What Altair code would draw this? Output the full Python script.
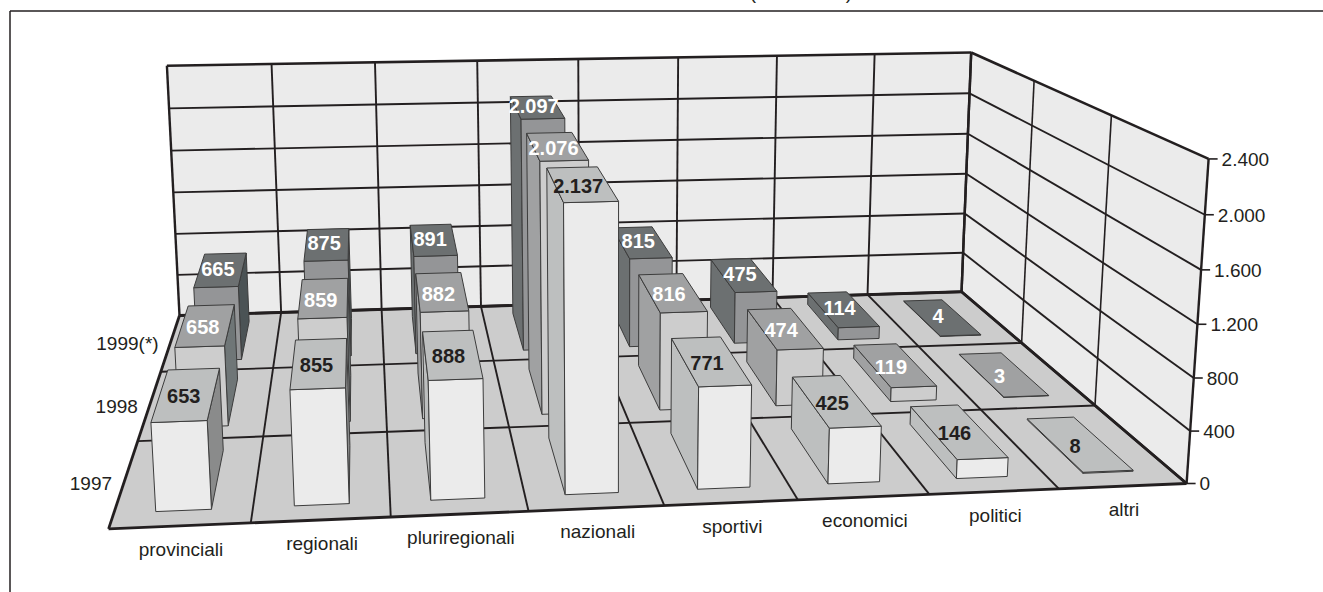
import altair as alt
import numpy as np

CATEGORIES = ["provinciali", "regionali", "pluriregionali", "nazionali",
              "sportivi", "economici", "politici", "altri"]
YEARS = ["1997", "1998", "1999(*)"]
V1997 = [653, 855, 888, 2137, 771, 425, 146, 8]
V1998 = [658, 859, 882, 2076, 816, 474, 119, 3]
V1999 = [665, 875, 891, 2097, 815, 475, 114, 4]
LABELS_1997 = ["653", "855", "888", "2.137", "771", "425", "146", "8"]
LABELS_1998 = ["658", "859", "882", "2.076", "816", "474", "119", "3"]
LABELS_1999 = ["665", "875", "891", "2.097", "815", "475", "114", "4"]
TICKS = [0, 400, 800, 1200, 1600, 2000, 2400]
TICK_LABELS = ["0", "400", "800", "1.200", "1.600", "2.000", "2.400"]

W, H = 1323, 592
FONT = "Liberation Sans"
INK = "#231f20"

# Each row: front, top, right side, left side
ROW_COLOURS = [
    ("#ebebeb", "#bdbfbf", "#8a8b8b", "#bdbfbf"),
    ("#cdcdcd", "#a0a1a2", "#6f7677", "#a0a1a2"),
    ("#949597", "#6c7071", "#4b5355", "#6c7071"),
]

# Camera: a 3x4 perspective matrix solved from known box reference points.
# World axes are (category, value, row).
CAMERA_POINTS = [
    ((0, 0, 0), (108, 529)), ((8, 0, 0), (1187, 483)), ((8, 0, 3), (962, 292)),
    ((0, 0, 3), (179, 315)), ((0, 2400, 3), (167, 66)), ((8, 2400, 3), (971, 52)),
    ((8, 2400, 0), (1208, 159)), ((0, 0, 1), (137, 442)), ((0, 0, 2), (162, 372)),
    ((8, 0, 1), (1095, 406)), ((8, 0, 2), (1021, 343)), ((4, 0, 0), (665, 505)),
    ((1, 0, 0), (251, 522)), ((7, 0, 0), (1058, 489)), ((8, 2000, 0), (1205, 215)),
    ((8, 1600, 0), (1202, 270)),
]


def solve_camera(points):
    rows, rhs = [], []
    for (a, b, c), (u, v) in points:
        b = b / 1000.0
        rows.append([a, b, c, 1, 0, 0, 0, 0, -u * a, -u * b, -u * c])
        rhs.append(u)
        rows.append([0, 0, 0, 0, a, b, c, 1, -v * a, -v * b, -v * c])
        rhs.append(v)
    sol = np.linalg.lstsq(np.array(rows, float), np.array(rhs, float), rcond=None)[0]
    return np.append(sol, 1.0).reshape(3, 4)


CAMERA = solve_camera(CAMERA_POINTS)


def project(cat, val, row):
    p = CAMERA @ np.array([cat, val / 1000.0, row, 1.0])
    return [float(p[0] / p[2]), float(p[1] / p[2])]


def polygon(points, fill, stroke, width):
    ring = points + [points[0]]
    return {"type": "Feature",
            "geometry": {"type": "Polygon", "coordinates": [ring]},
            "properties": {"fill": fill, "stroke": stroke, "width": width}}


def segment(a, b, width=1.9):
    return {"type": "Feature",
            "geometry": {"type": "LineString", "coordinates": [a, b]},
            "properties": {"fill": "none", "stroke": INK, "width": width}}


def signed_area(points):
    s = 0.0
    for i, (x0, y0) in enumerate(points):
        x1, y1 = points[(i + 1) % len(points)]
        s += x0 * y1 - x1 * y0
    return s


BAR_X = (0.30, 0.70)
BAR_Z = (0.16, 0.84)
LABEL_SHIFT_X = -3
LABEL_SHIFT_Y = [3, 3, 0]
N_CAT, N_ROW, TOP = len(CATEGORIES), len(YEARS), TICKS[-1]

features = []
# Back wall, side wall and floor
features.append(polygon([project(0, 0, 3), project(8, 0, 3), project(8, TOP, 3), project(0, TOP, 3)],
                        "#ebebeb", "none", 0))
features.append(polygon([project(8, 0, 3), project(8, 0, 0), project(8, TOP, 0), project(8, TOP, 3)],
                        "#ebebeb", "none", 0))
features.append(polygon([project(0, 0, 0), project(8, 0, 0), project(8, 0, 3), project(0, 0, 3)],
                        "#cccccc", "none", 0))

# Gridlines on the walls and the floor; box edges are a little heavier
for t in TICKS:
    w = 2.6 if t in (0, TOP) else 1.9
    features.append(segment(project(0, t, 3), project(8, t, 3), w))
    features.append(segment(project(8, t, 3), project(8, t, 0), w))
for c in range(N_CAT + 1):
    features.append(segment(project(c, 0, 3), project(c, TOP, 3), 2.4 if c in (0, N_CAT) else 1.9))
    features.append(segment(project(c, 0, 0), project(c, 0, 3), 2.8 if c in (0, N_CAT) else 1.9))
for r in range(N_ROW + 1):
    features.append(segment(project(8, 0, r), project(8, TOP, r), 2.4 if r in (0, N_ROW) else 1.6))
    features.append(segment(project(0, 0, r), project(8, 0, r), 2.8 if r in (0, N_ROW) else 1.9))
# Value axis ticks
for t in TICKS:
    a = project(8, t, 0)
    features.append(segment(a, [a[0] + 9, a[1]], 1.6))

# Outer frame
features.append(segment([10, 11], [W, 11], 1.5))
features.append(segment([10, 11], [10, H], 1.5))

# Bars, back row first so nearer rows paint over further ones
series = [V1997, V1998, V1999]
series_labels = [LABELS_1997, LABELS_1998, LABELS_1999]
text_rows = []
for r in reversed(range(N_ROW)):
    front, top, right, left = ROW_COLOURS[r]
    for c in range(N_CAT):
        v = series[r][c]
        x0, x1 = c + BAR_X[0], c + BAR_X[1]
        z0, z1 = r + BAR_Z[0], r + BAR_Z[1]
        fb0, fb1 = project(x0, 0, z0), project(x1, 0, z0)
        ft0, ft1 = project(x0, v, z0), project(x1, v, z0)
        bb0, bb1 = project(x0, 0, z1), project(x1, 0, z1)
        bt0, bt1 = project(x0, v, z1), project(x1, v, z1)
        # Side faces are only drawn when they turn toward the viewer
        right_face = [fb1, bb1, bt1, ft1]
        left_face = [bb0, fb0, ft0, bt0]
        if signed_area(right_face) < 0:
            features.append(polygon(right_face, right, "#3c3c3c", 1))
        if signed_area(left_face) < 0:
            features.append(polygon(left_face, left, "#3c3c3c", 1))
        features.append(polygon([fb0, fb1, ft1, ft0], front, "#3c3c3c", 1))
        features.append(polygon([ft0, ft1, bt1, bt0], top, "#3c3c3c", 1))
        cx, cy = project(c + 0.5, v, r + 0.5)
        text_rows.append({"lon": cx + LABEL_SHIFT_X, "lat": cy + LABEL_SHIFT_Y[r],
                          "text": series_labels[r][c],
                          "colour": INK if r == 0 else "#ffffff"})

axis_rows = []
for c, name in enumerate(CATEGORIES):
    x, y = project(c + 0.5, 0, 0)
    axis_rows.append({"lon": x + 1, "lat": y + 24, "text": name, "align": "center"})
for t, lab in zip(TICKS, TICK_LABELS):
    x, y = project(8, t, 0)
    axis_rows.append({"lon": x + 13, "lat": y + 1, "text": lab, "align": "left"})
for r, name in enumerate(YEARS):
    x, y = project(0, 0, r + 0.5)
    axis_rows.append({"lon": x - 12, "lat": y + 2, "text": name, "align": "right"})
# Parentheses of the heading running off the top of the page
axis_rows.append({"lon": 753, "lat": -7, "text": "(", "align": "center"})
axis_rows.append({"lon": 849, "lat": -7, "text": ")", "align": "center"})

PROJECTION = dict(type="identity", scale=1, translate=[0, 0])

shapes = (
    alt.Chart(alt.Data(values=features))
    .mark_geoshape(strokeJoin="round")
    .encode(
        fill=alt.Fill("properties.fill:N", scale=None),
        stroke=alt.Stroke("properties.stroke:N", scale=None),
        strokeWidth=alt.StrokeWidth("properties.width:Q", scale=None),
    )
    .project(**PROJECTION)
)

value_text = (
    alt.Chart(alt.Data(values=text_rows))
    .mark_text(font=FONT, fontSize=20, fontWeight="bold", baseline="middle")
    .encode(longitude="lon:Q", latitude="lat:Q", text="text:N",
            color=alt.Color("colour:N", scale=None))
    .project(**PROJECTION)
)

axis_layers = []
for align in ("center", "left", "right"):
    rows = [d for d in axis_rows if d["align"] == align]
    axis_layers.append(
        alt.Chart(alt.Data(values=rows))
        .mark_text(font=FONT, fontSize=19, align=align, baseline="middle", color=INK)
        .encode(longitude="lon:Q", latitude="lat:Q", text="text:N")
        .project(**PROJECTION)
    )

chart = (
    alt.layer(shapes, value_text, *axis_layers)
    .properties(width=W, height=H, padding=0, autosize=alt.AutoSizeParams(type="none"))
    .configure_view(stroke=None)
)

chart.save("out.html", embed_options={"renderer": "svg", "actions": False})
